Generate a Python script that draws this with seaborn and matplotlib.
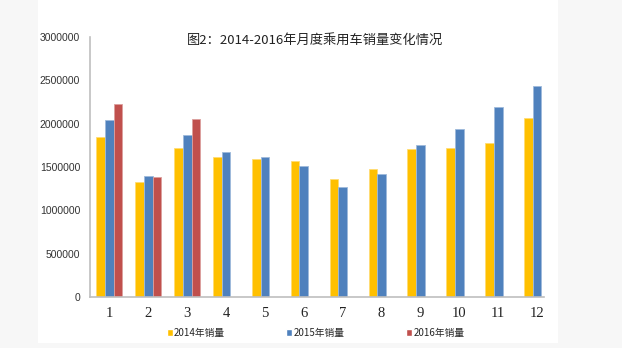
import numpy as np
import pandas as pd
import matplotlib
matplotlib.use("Agg")
import matplotlib.pyplot as plt
import matplotlib.patches as mpatches
import matplotlib.colors as mcolors
import seaborn as sns

months = ["1", "2", "3", "4", "5", "6", "7", "8", "9", "10", "11", "12"]
sales_2014 = [1845000, 1323000, 1723000, 1619000, 1596000, 1573000,
              1362000, 1473000, 1708000, 1715000, 1780000, 2069000]
sales_2015 = [2042000, 1396000, 1869000, 1669000, 1612000, 1515000,
              1269000, 1415000, 1750000, 1938000, 2196000, 2438000]
sales_2016 = [2227000, 1381000, 2054000, np.nan, np.nan, np.nan,
              np.nan, np.nan, np.nan, np.nan, np.nan, np.nan]
series_names = ["2014年销量", "2015年销量", "2016年销量"]
colors = ["#FFC000", "#4F81BD", "#C0504D"]
title = "图2：2014-2016年月度乘用车销量变化情况"
yticks = [0, 500000, 1000000, 1500000, 2000000, 2500000, 3000000]

df = pd.concat([
    pd.DataFrame({"month": months, "series": name, "value": vals})
    for name, vals in zip(series_names, [sales_2014, sales_2015, sales_2016])
], ignore_index=True)

sns.set_style("white")
plt.rcParams["font.family"] = ["Noto Sans CJK SC", "DejaVu Sans"]

fig = plt.figure(figsize=(6.22, 3.48), dpi=100)
fig.patch.set_facecolor("#F7F7F7")
# white chart panel
fig.patches.append(mpatches.Rectangle((38 / 622, 5 / 348), (558 - 38) / 622, 343 / 348,
                                      transform=fig.transFigure, facecolor="white",
                                      edgecolor="none", zorder=-10))

ax = fig.add_axes([90 / 622, 1 - 297 / 348, (556.5 - 90) / 622, (297 - 37) / 348])
ax.set_zorder(1)
ax.set_facecolor("none")

sns.barplot(data=df, x="month", y="value", hue="series", order=months,
            hue_order=series_names, palette=colors, width=0.67, ax=ax,
            legend=True, saturation=1)

for cont, c in zip(ax.containers, colors):
    light = tuple(0.55 * np.array(mcolors.to_rgb(c)) + 0.45)
    for p in cont.patches:
        p.set_edgecolor(light)
        p.set_linewidth(0.6)

ax.set_xlim(-0.5, 11.5)
ax.set_ylim(0, 3000000)
ax.set_yticks(yticks)
ax.set_yticklabels([str(v) for v in yticks], fontsize=7.5, color="#333333",
                   family="Liberation Sans")
ax.set_xticks(range(12))
ax.set_xticklabels(months, fontsize=10.5, family="Liberation Serif", color="#222222")
ax.tick_params(axis="x", which="major", length=0, pad=7)
ax.set_xticks(np.arange(-0.5, 11.6, 1), minor=True)
ax.tick_params(axis="x", which="minor", length=4, color="#BFBFBF", width=1, direction="out")
ax.tick_params(axis="y", length=4, color="#BFBFBF", width=1, direction="out", pad=3)
ax.set_xlabel("")
ax.set_ylabel("")

for s in ["top", "right"]:
    ax.spines[s].set_visible(False)
for s in ["left", "bottom"]:
    ax.spines[s].set_color("#BFBFBF")
    ax.spines[s].set_linewidth(1.2)
ax.spines["bottom"].set_bounds(-0.5, 11.17)

ax.text((315 - 90) / (556.5 - 90), 0.988, title, transform=ax.transAxes,
        ha="center", va="center", fontsize=9.5, color="#222222")

handles, labels = ax.get_legend_handles_labels()
ax.get_legend().remove()
leg = fig.legend(handles, labels, loc="center", bbox_to_anchor=(315.5 / 622, 1 - 333 / 348),
                 ncol=3, frameon=False, fontsize=7, handlelength=0.6, handleheight=0.6,
                 handletextpad=0.15, columnspacing=6.3)
leg.set_zorder(2)

fig.savefig("out.png", dpi=100, facecolor=fig.get_facecolor())
